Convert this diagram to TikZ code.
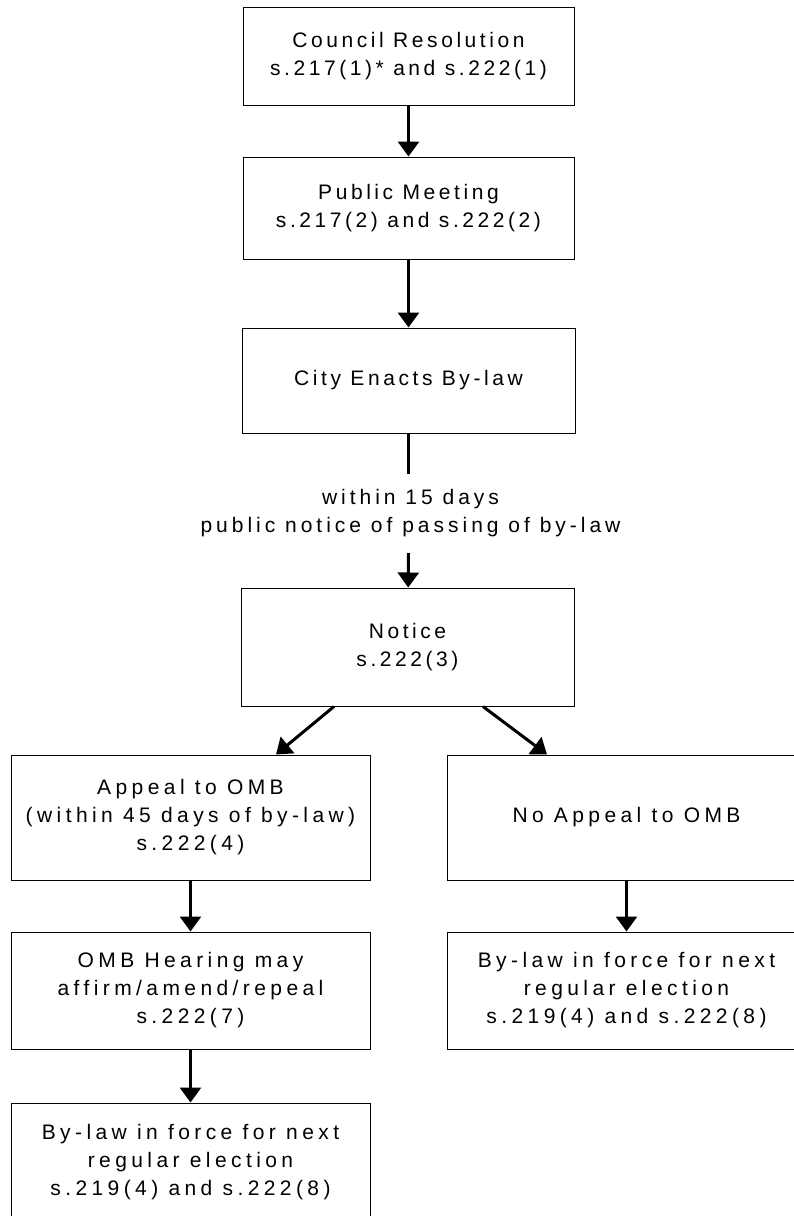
\documentclass[tikz,border=0pt]{standalone}
\usepackage{fontspec}
\setmainfont{Liberation Sans}[LetterSpace=17]
\usetikzlibrary{arrows.meta}

\tikzset{
  stepbox/.style={draw, line width=1pt, inner sep=0pt, align=center,
    font=\fontsize{21}{28}\selectfont},
  narrowbox/.style={stepbox, minimum width=331pt},
  widebox/.style={stepbox, minimum width=359pt,
    font=\fontsize{21}{28}\selectfont\addfontfeatures{LetterSpace=21}},
  flow/.style={line width=3pt, -{Triangle[width=21pt,length=15pt]}},
  plain/.style={line width=3pt}
}

\begin{document}
\begin{tikzpicture}[x=1pt, y=-1pt]
  \clip (0,0) rectangle (794,1216);
  \fill[white] (0,0) rectangle (794,1216);
  \node[narrowbox, minimum height=98pt] (res) at (408.5,56) {Council Resolution\\s.217(1)* and s.222(1)};
  \node[narrowbox, minimum height=102pt] (meet) at (408.5,208) {Public Meeting\\s.217(2) and s.222(2)};
  \node[narrowbox, minimum width=333pt, minimum height=105pt] (enact) at (408.5,380.5) {City Enacts By-law};
  \node[align=center, inner sep=0pt, minimum height=79pt,
    font=\fontsize{21}{28}\selectfont\addfontfeatures{LetterSpace=19}] (note) at (410.5,513.5) {within 15 days\\public notice of passing of by-law};
  \node[narrowbox, minimum width=333pt, minimum height=118pt] (notice) at (407.5,647) {Notice\\s.222(3)};
  \node[widebox, minimum height=125pt] (appeal) at (190.5,817.5) {Appeal to OMB\\(within 45 days of by-law)\\s.222(4)};
  \node[widebox, minimum height=125pt] (noappeal) at (626.5,817.5) {No Appeal to OMB};
  \node[widebox, minimum height=117pt] (hearing) at (190.5,990.5) {OMB Hearing may\\affirm/amend/repeal\\s.222(7)};
  \node[widebox, minimum height=117pt] (forceR) at (626.5,990.5) {By-law in force for next\\regular election\\s.219(4) and s.222(8)};
  \node[widebox, minimum height=118pt] (forceL) at (190.5,1162) {By-law in force for next\\regular election\\s.219(4) and s.222(8)};

  \draw[flow] (res) -- (meet);
  \draw[flow] (meet) -- (enact);
  \draw[plain] (enact) -- ([xshift=-2pt]note.north);
  \draw[flow] ([xshift=-2pt]note.south) -- (notice);
  \draw[flow] ([xshift=-73.5pt]notice.south) -- ([xshift=85.5pt]appeal.north);
  \draw[flow] ([xshift=75.5pt]notice.south) -- ([xshift=-79.5pt]noappeal.north);
  \draw[flow] (appeal) -- (hearing);
  \draw[flow] (noappeal) -- (forceR);
  \draw[flow] (hearing) -- (forceL);
\end{tikzpicture}
\end{document}
